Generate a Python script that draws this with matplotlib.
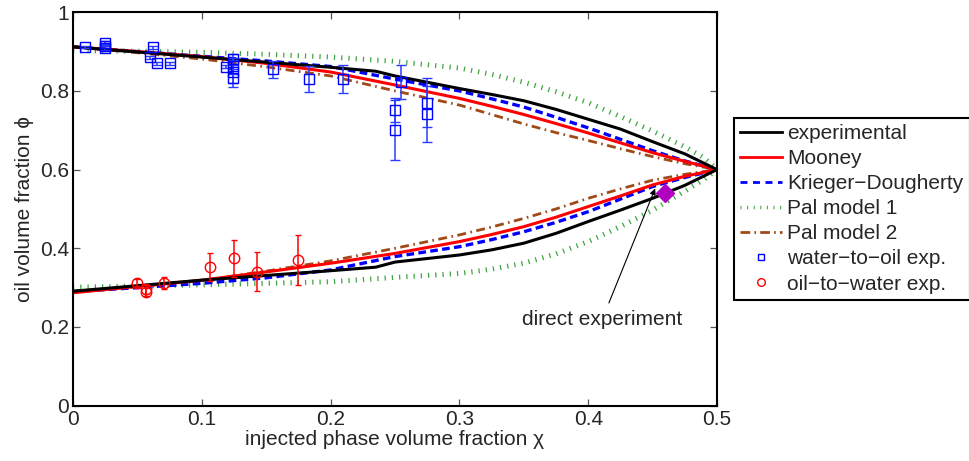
import matplotlib
matplotlib.use("Agg")
import matplotlib.pyplot as plt
from matplotlib.lines import Line2D

plt.rcParams['font.family'] = ['Liberation Sans', 'DejaVu Sans']
plt.rcParams['mathtext.default'] = 'regular'

# ---------------- data ----------------
# upper branch (water-to-oil), lower branch (oil-to-water)
chi_exp = [0, 0.05, 0.1, 0.15, 0.2, 0.235, 0.25, 0.3, 0.325, 0.35, 0.375, 0.4, 0.425, 0.45, 0.475, 0.5]
exp_up = [0.912, 0.899, 0.886, 0.873, 0.860, 0.850, 0.838, 0.806, 0.791, 0.775, 0.753, 0.728, 0.703, 0.671, 0.640, 0.600]
exp_lo = [0.291, 0.305, 0.319, 0.331, 0.343, 0.352, 0.365, 0.383, 0.396, 0.413, 0.438, 0.468, 0.497, 0.527, 0.560, 0.600]

chi_mod = [0, 0.05, 0.1, 0.15, 0.2, 0.25, 0.3, 0.325, 0.35, 0.375, 0.4, 0.425, 0.45, 0.475, 0.5]
mooney_up = [0.912, 0.900, 0.887, 0.870, 0.848, 0.815, 0.781, 0.761, 0.740, 0.717, 0.693, 0.668, 0.643, 0.621, 0.600]
mooney_lo = [0.287, 0.303, 0.319, 0.340, 0.362, 0.387, 0.417, 0.435, 0.455, 0.479, 0.506, 0.533, 0.561, 0.583, 0.600]
kd_up = [0.912, 0.900, 0.888, 0.876, 0.862, 0.830, 0.800, 0.780, 0.759, 0.733, 0.706, 0.677, 0.648, 0.622, 0.600]
kd_lo = [0.290, 0.300, 0.311, 0.325, 0.345, 0.379, 0.404, 0.422, 0.442, 0.466, 0.493, 0.525, 0.557, 0.580, 0.600]
pal2_up = [0.912, 0.897, 0.881, 0.861, 0.838, 0.800, 0.764, 0.740, 0.716, 0.694, 0.674, 0.653, 0.633, 0.615, 0.600]
pal2_lo = [0.290, 0.303, 0.318, 0.342, 0.368, 0.400, 0.434, 0.454, 0.476, 0.500, 0.527, 0.551, 0.573, 0.588, 0.600]

chi_pal1 = [0, 0.05, 0.1, 0.15, 0.2, 0.25, 0.3, 0.325, 0.35, 0.375, 0.4, 0.425, 0.45, 0.475, 0.49, 0.5]
pal1_up = [0.902, 0.901, 0.898, 0.893, 0.886, 0.875, 0.858, 0.842, 0.822, 0.798, 0.770, 0.735, 0.698, 0.658, 0.630, 0.600]
pal1_lo = [0.301, 0.304, 0.307, 0.311, 0.315, 0.326, 0.336, 0.347, 0.362, 0.386, 0.417, 0.455, 0.497, 0.545, 0.575, 0.600]

# water-to-oil experiments
w2o_chi = [0.009, 0.025, 0.025, 0.025, 0.060, 0.062, 0.065, 0.075, 0.119, 0.124, 0.124, 0.124, 0.124,
           0.155, 0.183, 0.210, 0.250, 0.250, 0.255, 0.275, 0.275]
w2o_phi = [0.912, 0.921, 0.915, 0.908, 0.885, 0.911, 0.870, 0.870, 0.862, 0.881, 0.864, 0.849, 0.832,
           0.855, 0.830, 0.830, 0.751, 0.701, 0.823, 0.770, 0.741]
w2o_err = [0.003, 0.005, 0.005, 0.005, 0.004, 0.004, 0.004, 0.004, 0.005, 0.014, 0.020, 0.030, 0.023,
           0.022, 0.033, 0.035, 0.030, 0.076, 0.044, 0.063, 0.072]

# oil-to-water experiments
o2w_chi = [0.050, 0.057, 0.057, 0.071, 0.106, 0.125, 0.143, 0.175]
o2w_phi = [0.313, 0.296, 0.289, 0.311, 0.352, 0.375, 0.341, 0.370]
o2w_err = [0.008, 0.011, 0.011, 0.015, 0.036, 0.047, 0.049, 0.064]

# direct experiment
direct_chi = [0.460]
direct_phi = [0.540]

x_ticks = [0, 0.1, 0.2, 0.3, 0.4, 0.5]
x_ticklabels = ['0', '0.1', '0.2', '0.3', '0.4', '0.5']
y_ticks = [0, 0.2, 0.4, 0.6, 0.8, 1.0]
y_ticklabels = ['0', '0.2', '0.4', '0.6', '0.8', '1']

# ---------------- styles ----------------
FS = 15
TXT = '#262626'
c_black = 'black'
c_red = '#ff0000'
c_blue = '#0000ff'
c_green = '#3fa53f'
c_brown = '#a04a18'

fig = plt.figure(figsize=(9.70, 4.61), dpi=100)
ax = fig.add_axes([73 / 970, 1 - 405.7 / 461, (717 - 73) / 970, (405.7 - 12.2) / 461])

pal1_ls = (0, (0.25, 1.2))
kd_ls = (0, (2.3, 1.3))
pal2_ls = (0, (3.2, 1.6, 0.6, 1.6))

ax.plot(chi_pal1, pal1_up, color=c_green, lw=3.6, ls=pal1_ls)
ax.plot(chi_pal1, pal1_lo, color=c_green, lw=3.6, ls=pal1_ls)
ax.plot(chi_mod, pal2_up, color=c_brown, lw=2.0, ls=pal2_ls)
ax.plot(chi_mod, pal2_lo, color=c_brown, lw=2.0, ls=pal2_ls)
ax.plot(chi_mod, kd_up, color=c_blue, lw=2.4, ls=kd_ls)
ax.plot(chi_mod, kd_lo, color=c_blue, lw=2.4, ls=kd_ls)
ax.plot(chi_mod, mooney_up, color=c_red, lw=2.2)
ax.plot(chi_mod, mooney_lo, color=c_red, lw=2.2)
ax.plot(chi_exp, exp_up, color=c_black, lw=2.2)
ax.plot(chi_exp, exp_lo, color=c_black, lw=2.2)

ax.errorbar(w2o_chi, w2o_phi, yerr=w2o_err, fmt='s', ms=6.5, mfc='none', mec=c_blue, mew=1.0,
            ecolor='#2a3cff', elinewidth=1.1, capsize=3.5, capthick=1.1, zorder=5)
ax.errorbar(o2w_chi, o2w_phi, yerr=o2w_err, fmt='o', ms=7.5, mfc='none', mec=c_red, mew=1.0,
            ecolor=c_red, elinewidth=1.1, capsize=2.5, capthick=1.1, zorder=5)

ax.plot(direct_chi, direct_phi, 'D', ms=9, color='#b000c0', mec='#b000c0', zorder=6)

ax.annotate('direct experiment', xy=(0.452, 0.552), xytext=(0.411, 0.220),
            ha='center', va='center', fontsize=FS, color=TXT,
            arrowprops=dict(arrowstyle='-|>', color='black', lw=0.8, mutation_scale=9,
                            shrinkA=3, shrinkB=0))

ax.set_xlim(0, 0.5)
ax.set_ylim(0, 1)
ax.set_xticks(x_ticks)
ax.set_xticklabels(x_ticklabels)
ax.set_yticks(y_ticks)
ax.set_yticklabels(y_ticklabels)
ax.tick_params(direction='in', length=5, width=0.9, color='#555555', labelsize=FS,
               labelcolor=TXT, top=True, right=True, pad=3)
for s in ax.spines.values():
    s.set_linewidth(1.5)
    s.set_color('black')

ax.set_xlabel('injected phase volume fraction \u03c7', fontsize=FS, color=TXT, labelpad=1)
ax.set_ylabel('oil volume fraction \u03d5', fontsize=FS, color=TXT, labelpad=4)

handles = [
    Line2D([], [], color=c_black, lw=2.0),
    Line2D([], [], color=c_red, lw=2.0),
    Line2D([], [], color=c_blue, lw=2.0, ls=(0, (2.5, 2.0))),
    Line2D([], [], color=c_green, lw=2.5, ls=(0, (0.3, 1.6))),
    Line2D([], [], color=c_brown, lw=2.0, ls=(0, (3.5, 1.5, 0.6, 1.5))),
    Line2D([], [], ls='none', marker='s', ms=5, mfc='none', mec=c_blue, mew=1.0),
    Line2D([], [], ls='none', marker='o', ms=5.5, mfc='none', mec=c_red, mew=1.0),
]
labels = ['experimental', 'Mooney', 'Krieger\u2212Dougherty', 'Pal model 1', 'Pal model 2',
          'water\u2212to\u2212oil exp.', 'oil\u2212to\u2212water exp.']
leg = fig.legend(handles, labels, loc='upper left', bbox_to_anchor=(734 / 970, 1 - 118 / 461),
                 fontsize=FS, frameon=True, fancybox=False, framealpha=1, edgecolor='black',
                 handlelength=2.0, handletextpad=0.25, labelspacing=0.29, borderpad=0.3,
                 borderaxespad=0)
leg.get_frame().set_linewidth(1.5)
for t in leg.get_texts():
    t.set_color(TXT)

fig.savefig('out.png', dpi=100)
